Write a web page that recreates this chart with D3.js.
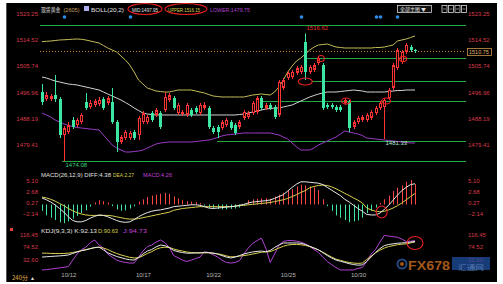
<!DOCTYPE html>
<html><head><meta charset="utf-8">
<script src="https://cdn.jsdelivr.net/npm/d3@7"></script>
<style>html,body{margin:0;padding:0;background:#fff;overflow:hidden}svg{display:block}</style>
</head><body><svg id="c" width="503" height="284"></svg>
<script>
// ---------- DATA ----------
const openP=[1497.08,1494.75,1494.75,1496.08,1494.75,1482.75,1483.75,1487.75,1486.08,1487.08,
1493.75,1492.08,1492.75,1493.08,1494.75,1493.42,1493.75,1487.08,1480.42,1481.75,
1481.75,1483.75,1482.75,1487.08,1487.08,1490.08,1489.42,1490.08,1491.08,1494.42,
1495.08,1490.08,1489.75,1489.42,1491.08,1491.75,1490.08,1491.75,1491.75,1485.08,
1485.42,1485.08,1486.08,1487.08,1486.08,1485.42,1488.42,1488.75,1490.08,1490.42,
1495.08,1491.75,1492.75,1492.08,1489.42,1498.42,1501.75,1502.08,1503.42,1503.75,
1513.75,1503.75,1504.42,1506.75,1506.08,1492.75,1492.75,1492.08,1492.08,1493.42,
1493.75,1485.42,1487.08,1487.75,1487.75,1488.42,1490.08,1491.75,1492.08,
1495.08,1498.42,1505.08,1507.08,1510.42,1512.08,1511.08];
const highP=[1499.75,1497.08,1496.42,1502.75,1495.42,1485.75,1487.08,1488.75,1488.42,1490.08,
1496.75,1494.42,1494.75,1495.42,1495.42,1495.75,1498.42,1487.75,1482.75,1484.42,
1484.08,1484.42,1489.08,1490.75,1489.42,1490.75,1491.75,1490.75,1497.08,1496.75,
1495.75,1493.42,1491.08,1493.42,1491.75,1492.42,1493.42,1493.75,1492.42,1485.75,
1486.08,1487.75,1488.42,1487.75,1486.75,1487.75,1491.08,1490.75,1494.08,1495.75,
1495.75,1493.42,1493.42,1492.75,1501.08,1501.75,1504.08,1504.42,1505.75,1506.08,
1516.62,1506.08,1506.75,1509.08,1506.75,1493.42,1493.42,1492.75,1492.75,1495.08,
1494.42,1487.75,1489.08,1489.42,1490.08,1491.08,1492.42,1494.08,1495.08,
1498.42,1506.75,1511.75,1511.08,1513.42,1512.75,1511.42];
const lowP=[1492.75,1494.08,1494.08,1493.75,1481.75,1474.08,1483.08,1484.75,1485.42,1486.42,
1491.08,1491.42,1492.08,1492.42,1491.08,1492.75,1486.42,1477.08,1479.75,1481.08,
1481.08,1481.08,1481.08,1486.42,1486.42,1487.08,1488.75,1484.75,1490.42,1493.75,
1491.08,1489.42,1489.08,1488.75,1488.75,1489.75,1489.42,1491.08,1484.75,1483.08,
1481.75,1484.42,1485.42,1484.42,1482.75,1484.75,1487.75,1488.08,1489.42,1489.75,
1491.08,1491.08,1491.08,1488.08,1488.75,1497.75,1501.08,1501.42,1502.75,1503.08,
1501.08,1503.08,1503.75,1506.08,1491.08,1491.42,1491.42,1490.42,1490.42,1492.75,
1483.75,1484.75,1486.42,1487.08,1487.08,1487.75,1489.42,1491.08,1481.33,
1494.42,1497.75,1504.42,1506.42,1509.75,1510.42,1510.08];
const closeP=[1493.75,1496.08,1495.75,1494.75,1482.75,1485.08,1486.08,1485.42,1487.75,1489.42,
1491.75,1493.42,1494.08,1494.42,1491.75,1495.08,1487.08,1480.42,1482.08,1483.75,
1483.42,1481.75,1488.42,1490.08,1488.75,1487.75,1491.08,1485.42,1495.42,1496.08,
1491.75,1492.75,1490.42,1492.75,1489.42,1490.42,1492.75,1492.75,1485.42,1483.75,
1483.75,1487.08,1487.75,1485.08,1483.42,1487.08,1490.42,1490.08,1493.42,1495.08,
1491.75,1492.75,1491.75,1488.75,1500.42,1501.08,1503.42,1503.75,1505.08,1505.42,
1503.75,1505.42,1506.08,1508.42,1491.75,1492.08,1492.08,1491.08,1491.08,1494.42,
1485.08,1487.08,1488.42,1488.75,1489.42,1490.42,1491.75,1493.42,1494.42,
1497.75,1506.08,1511.08,1510.42,1512.75,1511.08,1510.75];

const bollUpper=[1513.85,1513.98,1514.08,1514.25,1514.42,1514.48,1514.58,1514.68,1514.75,1514.65,
1514.42,1514.08,1513.75,1513.42,1512.58,1511.75,1511.08,1510.42,1509.08,1507.75,
1506.08,1503.75,1501.08,1499.75,1498.42,1497.92,1497.42,1497.25,1497.08,1497.08,
1497.42,1497.75,1497.75,1497.75,1497.75,1497.42,1497.08,1496.75,1496.25,
1495.75,1495.58,1495.42,1495.42,1495.42,1495.42,1495.42,1495.42,1495.75,1496.08,
1496.25,1496.42,1496.25,1496.08,1497.08,1498.75,1501.08,1503.75,1505.75,1507.42,
1508.42,1509.75,1511.08,1512.08,1512.75,1512.92,1513.08,1512.58,1512.08,1511.92,
1511.75,1511.75,1511.75,1511.75,1511.75,
1511.75,1511.75,1511.92,1511.92,1512.08,1512.42,1512.75,1514.08,1514.42,1514.75,1515.25,1515.75];
const bollMid=[1502.08,1501.75,1501.25,1500.75,1500.42,1500.08,1499.75,1499.58,1499.42,1499.08,
1498.75,1498.42,1498.08,1497.75,1497.08,1496.42,1495.75,1495.08,1494.42,1493.58,
1492.75,1491.75,1490.92,1490.08,1489.75,1489.58,1489.42,1489.42,1489.42,1489.42,
1489.42,1489.42,1489.42,1489.42,1489.42,1489.42,1489.42,1489.42,1489.42,
1489.42,1489.42,1489.42,1489.42,1489.42,1489.42,1489.58,1489.75,1490.08,1490.42,
1490.75,1491.08,1491.42,1491.58,1491.75,1491.75,1492.08,1492.42,1492.75,1493.42,
1494.08,1494.75,1495.42,1495.92,1496.42,1496.75,1497.08,1497.08,1497.08,1497.25,
1497.42,1497.58,1497.75,1497.58,1497.42,
1497.08,1497.08,1497.08,1497.08,1497.08,1497.25,1497.42,1497.58,1497.58,1497.75,1497.75,1497.75];
const bollLower=[1490.08,1489.42,1488.75,1487.75,1487.08,1486.42,1485.92,1485.58,1485.25,1485.08,
1484.92,1484.75,1484.58,1484.42,1482.75,1481.08,1479.42,1478.42,1477.75,1477.08,
1477.08,1477.25,1477.42,1477.75,1478.42,1479.08,1479.75,1480.08,1480.25,1480.42,
1480.42,1480.42,1480.42,1480.42,1480.42,1480.58,1480.75,1480.92,1481.08,
1481.42,1481.92,1482.42,1482.75,1482.92,1483.08,1483.25,1483.42,1483.42,1483.42,
1483.42,1483.42,1483.42,1483.42,1483.08,1482.75,1482.08,1481.42,1480.08,1478.75,
1477.75,1477.75,1477.75,1478.42,1479.42,1480.08,1480.75,1481.42,1482.08,1483.08,
1484.08,1483.75,1483.42,1483.08,1482.58,
1481.75,1481.58,1481.42,1481.25,1481.08,1480.92,1480.75,1480.58,1480.42,1480.25,1480.08,1480.08];

const macdDiff=[1.28,0.9,0.4,-0.24,-1.0,-1.8,-2.8,-3.6,-3.9,-3.9,
-3.6,-3.1,-2.7,-2.4,-2.5,-2.8,-3.2,-3.6,-3.9,-4.0,
-3.9,-3.4,-2.8,-2.3,-1.9,-1.6,-1.4,-1.3,-1.1,-0.9,
-0.6,-0.5,-0.4,-0.3,-0.2,-0.2,-0.3,-0.6,-0.9,
-1.0,-0.9,-0.8,-0.7,-0.6,-0.5,-0.3,-0.1,0.2,0.4,
0.5,0.6,0.7,0.85,1.2,1.6,2.0,2.8,3.6,4.3,
4.8,4.8,4.7,4.6,4.5,4.2,3.6,3.0,2.4,1.8,
1.0,0.4,-0.3,-1.0,-1.6,
-2.3,-2.4,-2.4,-2.0,-1.2,-0.3,0.8,1.9,2.9,3.6,4.2,4.38];
const macdDea=[1.5,1.3,1.0,0.6,0.1,-0.4,-1.0,-1.5,-1.9,-2.2,
-2.4,-2.5,-2.5,-2.5,-2.5,-2.5,-2.6,-2.8,-3.0,-3.2,
-3.3,-3.3,-3.2,-3.0,-2.8,-2.6,-2.4,-2.2,-2.0,-1.8,
-1.4,-1.2,-1.0,-0.9,-0.8,-0.7,-0.6,-0.6,-0.6,
-0.6,-0.6,-0.6,-0.6,-0.6,-0.5,-0.4,-0.3,-0.2,-0.1,
0.0,0.1,0.2,0.3,0.5,0.7,0.9,1.2,1.6,2.0,
2.5,2.9,3.5,3.8,4.0,4.1,4.0,3.7,3.3,2.8,
2.3,1.8,1.3,0.8,0.2,
-0.9,-1.3,-1.6,-1.7,-1.6,-1.3,-0.9,-0.4,0.2,0.9,1.6,2.27];
const macdHist=[-1.5,-2.5,-3.0,-3.5,-4.0,-4.2,-3.8,-3.2,-2.6,-2.0,
-1.4,-0.6,0.3,0.8,0.6,0.3,-0.5,-1.2,-1.5,-1.4,
-1.0,-0.5,0.5,1.0,1.5,1.8,2.0,2.2,2.4,2.2,
1.6,1.2,0.8,0.6,0.5,0.4,0.2,-0.4,-0.8,
-1.0,-1.1,-1.2,-1.2,-1.1,-1.0,-0.8,-0.4,0.8,1.0,
1.1,1.2,1.2,1.1,1.6,2.0,2.4,2.8,3.2,3.8,
4.2,4.0,3.8,3.6,3.0,1.0,-0.5,-1.5,-2.5,-3.0,
-3.5,-4.0,-3.8,-3.6,-3.0,
-2.0,-1.5,-0.8,0.2,1.0,1.8,2.8,3.5,4.0,4.8,5.2,4.3];

const kdjK=[40,41,42,43,44,45,47,52,57,61,
64,68,72,73,64,54,48,42,38,34,
31,30,38,50,60,65,74,80,78,72,
62,58,55,53,53,54,54,56,55,
53,50,45,40,37,40,45,50,54,57,
59,60,58,62,72,80,87,87,87,87,
86,82,76,70,64,55,45,37,30,26,
22,18,15,13,14,
25,40,55,68,78,82,84,86,87,88,90,92.13];
const kdjD=[53,53,52,52,52,52,53,55,58,62,
65,68,71,73,70,65,58,52,47,43,
39,37,38,44,52,58,66,71,73,72,
67,63,60,57,55,54,54,54,54,
53,51,48,44,41,41,43,45,47,50,
53,56,57,58,64,70,76,80,82,82,
81,79,75,70,64,56,48,40,33,29,
25,22,20,19,20,
32,43,54,63,70,75,78,81,83,84,87,90.63];
const kdjJ=[-3,-2,0,2,4,6,8,30,50,65,
73,88,97,80,70,50,40,30,25,22,
20,20,40,60,75,80,90,97,88,72,
45,38,30,25,30,35,40,57,55,
48,40,30,22,20,22,28,50,70,85,
95,103,70,22,50,80,92,95,95,93,
90,84,75,65,55,40,25,15,5,-3,
-3,-3,-3,2,5,
25,50,65,90,112,110,108,106,100,92,93,94.73];

const dateLabels=["10/12","10/17","10/22","10/25","10/30"];
const dateIdx=[6,23,39,56,72];
const priceTicks=[1523.25,1514.52,1505.74,1496.96,1488.19,1479.41];
const macdTicks=[5.10,2.68,0.27,-2.14];
const kdjTicks=[116.45,74.52,32.60];
const levelPrice=[1519.42,1508.42,1500.75,1494.08,1480.75,1474.08];
const levelStart=[-0.5,60.4,61.5,49.7,39.9,4.6];
const eventIdx=[5,20,59,76,77,81];
const mainMarks=[{i:60,v:1500.6,rx:7,ry:3.5},{i:63.6,v:1508.25,rx:3.2,ry:3},{i:69.3,v:1494.08,rx:4.5,ry:3},{i:78.4,v:1494.08,rx:4.5,ry:3},{i:82.3,v:1508.08,rx:3.5,ry:2.6}];
const macdMark={i:77.4,v:-1.76,rx:5.5,ry:6};
const kdjMark={i:85,v:86.9,rx:8,ry:6.5};

// ---------- SETUP ----------
const svg=d3.select('#c');
const N=openP.length;
const LAB='#d63a4a', UP='#ff3434', DN='#3ee6a4', GL='#22a846';
const FONT='Liberation Sans, Arial, sans-serif', CJK='Noto Sans CJK SC, sans-serif';
const x=d3.scaleLinear().domain([0,85]).range([42,415]);
const yM=d3.scaleLinear().domain([1527.75-170/3,1527.75]).range([170,0]);
const yMa=d3.scaleLinear().domain([0,5]).range([203.9,180.9]);
const yK=d3.scaleLinear().domain([0,100]).range([269.06,239.06]);
const cx=i=>Math.round(x(i))+0.5;

svg.append('rect').attr('x',6).attr('y',3).attr('width',491).attr('height',279).attr('fill','#000');
svg.append('line').attr('x1',6.5).attr('x2',6.5).attr('y1',3).attr('y2',282).attr('stroke','#555');

const defs=svg.append('defs');
defs.append('clipPath').attr('id','cm').append('rect').attr('x',40).attr('y',3).attr('width',426).attr('height',167);

// ---------- AXES ----------
function yAxis(scale,vals,fmt,side){
  const ax=(side==='l'?d3.axisLeft(scale):d3.axisRight(scale)).tickValues(vals).tickFormat(fmt).tickSize(0).tickPadding(2);
  const g=svg.append('g').attr('transform',`translate(${side==='l'?40:466},0)`).call(ax);
  g.select('.domain').remove();
  g.attr('font-size',6).attr('font-family',FONT);
  g.selectAll('text').attr('fill',LAB);
}
const f2=d3.format('.2f');
yAxis(yM,priceTicks,f2,'l'); yAxis(yM,priceTicks,f2,'r');
yAxis(yMa,macdTicks,f2,'l'); yAxis(yMa,macdTicks,f2,'r');
yAxis(yK,kdjTicks,f2,'l'); yAxis(yK,kdjTicks,f2,'r');

const gx=svg.append('g').attr('transform','translate(0,272)')
  .call(d3.axisBottom(x).tickValues(dateIdx).tickFormat((d,i)=>dateLabels[i]).tickSize(0).tickPadding(1));
gx.select('.domain').remove();
gx.attr('font-size',6).attr('font-family',FONT);
gx.selectAll('text').attr('fill','#b8b8b8');

// ---------- MAIN PANEL ----------
const gm=svg.append('g').attr('clip-path','url(#cm)');
levelPrice.forEach((p,k)=>{
  gm.append('line').attr('x1',x(levelStart[k])).attr('x2',466).attr('y1',Math.round(yM(p))+0.5).attr('y2',Math.round(yM(p))+0.5)
    .attr('stroke',GL).attr('stroke-width',1);
});
const last=closeP[N-1];
gm.append('line').attr('x1',40).attr('x2',466).attr('y1',Math.round(yM(last))+0.5).attr('y2',Math.round(yM(last))+0.5)
  .attr('stroke','#c8803c').attr('stroke-dasharray','1,2');
const lineM=arr=>d3.line().x((d,i)=>x(i)).y(d=>yM(d))(arr);
gm.append('path').attr('d',lineM(bollUpper)).attr('fill','none').attr('stroke','#c4bc58').attr('stroke-width',1);
gm.append('path').attr('d',lineM(bollMid)).attr('fill','none').attr('stroke','#d4d4d4').attr('stroke-width',1);
gm.append('path').attr('d',lineM(bollLower)).attr('fill','none').attr('stroke','#9a3cc4').attr('stroke-width',1);
for(let i=0;i<N;i++){
  const o=openP[i],c=closeP[i],up=c>=o,col=up?UP:DN,X=cx(i);
  gm.append('line').attr('x1',X).attr('x2',X).attr('y1',yM(highP[i])).attr('y2',yM(lowP[i])).attr('stroke',col).attr('stroke-width',1);
  const top=yM(Math.max(o,c)),bot=yM(Math.min(o,c)),h=Math.max(1,bot-top);
  if(up&&h>3){
    gm.append('rect').attr('x',X-1).attr('y',top+0.5).attr('width',2).attr('height',h-1).attr('fill','#000').attr('stroke',col).attr('stroke-width',1);
  } else {
    gm.append('rect').attr('x',X-1.5).attr('y',top).attr('width',3).attr('height',h).attr('fill',col);
  }
}
const hiI=d3.maxIndex(highP), loI=d3.minIndex(lowP);
svg.append('text').attr('x',cx(hiI)+1).attr('y',30).text(f2(highP[hiI])).attr('fill','#e23030').attr('font-size',6).attr('font-family',FONT);
svg.append('text').attr('x',cx(loI)+1).attr('y',166.5).text(f2(lowP[loI])).attr('fill','#3ad07a').attr('font-size',6).attr('font-family',FONT);
svg.append('text').attr('x',cx(78)+1).attr('y',144.5).text(f2(lowP[78])).attr('fill','#b0e8d0').attr('font-size',6).attr('font-family',FONT);
svg.append('rect').attr('x',467.5).attr('y',Math.round(yM(last))-2.5).attr('width',24).attr('height',7).attr('fill','#000').attr('stroke','#c8964c').attr('stroke-width',0.8);
svg.append('text').attr('x',469).attr('y',Math.round(yM(last))+3.2).text(f2(last)).attr('fill','#e0b070').attr('font-size',5.5).attr('font-family',FONT);
eventIdx.forEach(i=>svg.append('circle').attr('cx',cx(i)).attr('cy',17).attr('r',1.8).attr('fill','#2a8eea'));
mainMarks.forEach(m=>svg.append('ellipse').attr('cx',x(m.i)).attr('cy',yM(m.v)).attr('rx',m.rx).attr('ry',m.ry).attr('fill','none').attr('stroke','#e82020').attr('stroke-width',1.1));

// ---------- MACD ----------
const z=Math.round(yMa(0))+0.5;
macdHist.forEach((v,i)=>{
  svg.append('line').attr('x1',cx(i)).attr('x2',cx(i)).attr('y1',z).attr('y2',yMa(v)).attr('stroke',v>=0?'#ff4444':'#3ee6a4').attr('stroke-width',1);
});
const lineMa=arr=>d3.line().x((d,i)=>x(i)).y(d=>yMa(d))(arr);
svg.append('path').attr('d',lineMa(macdDea)).attr('fill','none').attr('stroke','#d8d050').attr('stroke-width',1);
svg.append('path').attr('d',lineMa(macdDiff)).attr('fill','none').attr('stroke','#e8e8e8').attr('stroke-width',1);
svg.append('ellipse').attr('cx',x(macdMark.i)).attr('cy',yMa(macdMark.v)).attr('rx',macdMark.rx).attr('ry',macdMark.ry).attr('fill','none').attr('stroke','#e82020').attr('stroke-width',1.1);

// ---------- KDJ ----------
const lineK=arr=>d3.line().x((d,i)=>x(i)).y(d=>yK(d))(arr);
svg.append('path').attr('d',lineK(kdjJ)).attr('fill','none').attr('stroke','#b042d4').attr('stroke-width',1);
svg.append('path').attr('d',lineK(kdjD)).attr('fill','none').attr('stroke','#d8d050').attr('stroke-width',1);
svg.append('path').attr('d',lineK(kdjK)).attr('fill','none').attr('stroke','#e8e8e8').attr('stroke-width',1);
svg.append('ellipse').attr('cx',x(kdjMark.i)).attr('cy',yK(kdjMark.v)).attr('rx',kdjMark.rx).attr('ry',kdjMark.ry).attr('fill','none').attr('stroke','#e82020').attr('stroke-width',1.1);

// ---------- TEXTS ----------
function t(xp,yp,str,col,w,fam,fs){
  const e=svg.append('text').attr('x',xp).attr('y',yp).text(str).attr('fill',col).attr('font-size',fs||6).attr('font-family',fam||FONT);
  if(w) e.attr('textLength',w).attr('lengthAdjust','spacingAndGlyphs');
  return e;
}
t(41,11.5,'现货黄金','#e0e0e0',19.5,CJK,5.5);
t(63.5,11.5,'(2605)','#c8a060',16);
svg.append('rect').attr('x',84).attr('y',6).attr('width',5).attr('height',5).attr('fill','#b0b0f0');
t(91,11.5,'BOLL(20,2)','#e0e0e0',33);
t(132,11.5,'MID:1497.95','#e0e0e0',26);
t(168,11.5,'UPPER:1516.15','#d8d050',32);
t(210,11.5,'LOWER:1479.75','#b040d0',40);
svg.append('ellipse').attr('cx',145).attr('cy',9).attr('rx',17).attr('ry',5.5).attr('fill','none').attr('stroke','#e82020').attr('stroke-width',1.1);
svg.append('ellipse').attr('cx',186).attr('cy',9).attr('rx',21).attr('ry',5.5).attr('fill','none').attr('stroke','#e82020').attr('stroke-width',1.1);
svg.append('rect').attr('x',397.5).attr('y',5.5).attr('width',34).attr('height',7).attr('fill','#111').attr('stroke','#cfcfcf').attr('stroke-width',0.8);
t(400,11,'全部主图 ▼','#e0e0e0',26,CJK,5);
[442,448.5,455,461.5].forEach((xx,k)=>{
  svg.append('rect').attr('x',xx).attr('y',5.5).attr('width',5).attr('height',7).attr('fill','none').attr('stroke','#d8d8d8').attr('stroke-width',0.8);
  svg.append('line').attr('x1',xx+1).attr('x2',xx+4).attr('y1',9).attr('y2',9).attr('stroke','#d8d8d8').attr('stroke-width',0.6);
});
t(41,177,'MACD(26,12,9)  DIFF:4.38','#e0e0e0',70);
t(113,177,'DEA:2.27','#d8d050',21);
t(143,177,'MACD:4.26','#c040d8',29);
svg.append('rect').attr('x',10).attr('y',228).attr('width',3).attr('height',3).attr('fill','#e04040');
t(41,232.5,'KDJ(9,3,3)  K:92.13','#e0e0e0',56);
t(98,232.5,'D:90.63','#d8d050',20);
t(123,232.5,'J:94.73','#c040d8',24);
t(12,279.5,'240分','#e0b050',16,CJK,6);
t(30,279.5,'▲','#e0e0e0',null,FONT,5);
// watermark
const wm=svg.append('g').attr('opacity',0.75);
wm.append('circle').attr('cx',402).attr('cy',264).attr('r',4.5).attr('fill','none').attr('stroke','#2f5fa8').attr('stroke-width',2);
wm.append('circle').attr('cx',402).attr('cy',264).attr('r',2).attr('fill','#d87020');
wm.append('text').attr('x',408).attr('y',270).text('FX678').attr('fill','#d87424').attr('font-size',12).attr('font-weight','bold').attr('font-family',FONT).attr('textLength',42).attr('lengthAdjust','spacingAndGlyphs');
wm.append('rect').attr('x',452).attr('y',257).attr('width',38).attr('height',13).attr('fill','#1f4f9f');
wm.append('text').attr('x',458).attr('y',269.5).text('汇通网').attr('fill','#6fa0e8').attr('font-size',6.5).attr('font-family',CJK).attr('textLength',26).attr('lengthAdjust','spacingAndGlyphs');
</script>
</body></html>
